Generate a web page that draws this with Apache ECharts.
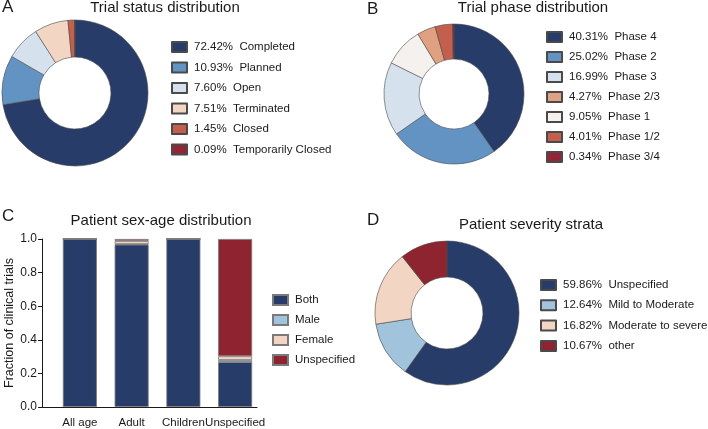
<!DOCTYPE html>
<html>
    <head>
        <meta charset="utf-8">
        <title>trial-overview</title>
        <style>html,body{margin:0;padding:0;background:#fff}.chart{width:708px;height:429px}</style>
    </head>
    <body>
        <div class="chart"></div>
        <script type="text/javascript" src="https://fastly.jsdelivr.net/npm/echarts@6/dist/echarts.min.js"></script>
        <script>
            // A - trial status
            const statusNames = ['Completed', 'Planned', 'Open', 'Terminated', 'Closed', 'Temporarily Closed'];
            const statusPct = [72.42, 10.93, 7.60, 7.51, 1.45, 0.09];
            const statusColors = ['#283c69', '#6393c3', '#d5e2ee', '#f2d5c2', '#c2604d', '#942534'];

            // B - trial phase (drawing order differs from legend order)
            const phaseNames = ['Phase 4', 'Phase 2', 'Phase 3', 'Phase 1', 'Phase 2/3', 'Phase 1/2', 'Phase 3/4'];
            const phasePct = [40.31, 25.02, 16.99, 9.05, 4.27, 4.01, 0.34];
            const phaseColors = ['#283c69', '#6393c3', '#d5e2ee', '#f5f1ee', '#e0a182', '#c2604d', '#942534'];
            const phaseLegendOrder = ['Phase 4', 'Phase 2', 'Phase 3', 'Phase 2/3', 'Phase 1', 'Phase 1/2', 'Phase 3/4'];

            // C - sex-age stacked fractions
            const ageGroups = ['All age', 'Adult', 'Children', 'Unspecified'];
            const sexNames = ['Both', 'Male', 'Female', 'Unspecified'];
            const sexBoth = [1.0, 0.966, 1.0, 0.268];
            const sexMale = [0, 0.004, 0, 0.012];
            const sexFemale = [0, 0.018, 0, 0.022];
            const sexUnspec = [0, 0.012, 0, 0.698];
            const sexColors = ['#283c69', '#a2c3dc', '#f2d5c2', '#8f2431'];
            const yTicks = [0, 0.2, 0.4, 0.6, 0.8, 1.0];

            // D - severity
            const severityNames = ['Unspecified', 'Mild to Moderate', 'Moderate to severe', 'other'];
            const severityPct = [59.86, 12.64, 16.82, 10.67];
            const severityColors = ['#283c69', '#a2c3dc', '#f2d5c2', '#8f2431'];

            const label = (p, n) => p.toFixed(2) + '%  ' + n;
            const font = 'Liberation Sans, Arial, sans-serif';
            const ink = '#1a1a1a';

            function pieSeries(names, pct, colors, center, radius) {
                return {
                    type: 'pie',
                    center: center,
                    radius: radius,
                    startAngle: 90,
                    clockwise: true,
                    label: { show: false },
                    labelLine: { show: false },
                    silent: true,
                    animation: false,
                    itemStyle: { borderColor: '#4a4a4a', borderWidth: 0.6 },
                    data: names.map((n, i) => ({
                        name: label(pct[i], n),
                        value: pct[i],
                        itemStyle: { color: colors[i] }
                    }))
                };
            }

            function legendBase(left, top, gap, data) {
                return {
                    orient: 'vertical',
                    left: left,
                    top: top,
                    itemWidth: 19,
                    itemHeight: 10,
                    itemGap: gap,
                    icon: 'path://M0,0H15V10H0Z',
                    selectedMode: false,
                    textStyle: { fontFamily: font, fontSize: 11.5, color: ink, lineHeight: 14 },
                    data: data
                };
            }

            function titleText(text, left, top, size, center) {
                return {
                    text: text, left: left, top: top, padding: 0,
                    textAlign: center ? 'center' : 'left',
                    textStyle: { fontSize: size, fontWeight: 'normal', color: ink, fontFamily: font }
                };
            }

            const barStyle = { borderColor: '#7a7a7a', borderWidth: 0.8 };
            const barSeries = [sexBoth, sexMale, sexFemale, sexUnspec].map((vals, i) => ({
                name: sexNames[i],
                type: 'bar',
                stack: 'sex',
                barWidth: 34,
                xAxisIndex: 0,
                yAxisIndex: 0,
                animation: false,
                itemStyle: Object.assign({ color: sexColors[i] }, barStyle),
                data: vals
            }));

            const phaseIndex = phaseLegendOrder.map(n => phaseNames.indexOf(n));

            const $myChart = echarts.init(document.querySelector('.chart'), null, { renderer: 'canvas' });
            $myChart.setOption({
                animation: false,
                textStyle: { fontFamily: font },
                title: [
                    titleText('A', 2, -1, 17, false),
                    titleText('Trial status distribution', 165, 0, 15, true),
                    titleText('B', 367, 1, 17, false),
                    titleText('Trial phase distribution', 533, 0, 15, true),
                    titleText('C', 2, 208, 17, false),
                    titleText('Patient sex-age distribution', 161, 213, 15, true),
                    titleText('D', 367, 212, 17, false),
                    titleText('Patient severity strata', 531, 217, 15, true)
                ],
                legend: [
                    legendBase(166, 35, 6.5, statusNames.map((n, i) => label(statusPct[i], n))),
                    legendBase(541, 25, 6, phaseIndex.map(i => label(phasePct[i], phaseNames[i]))),
                    legendBase(267, 288, 6, sexNames),
                    legendBase(535, 273, 6.3, severityNames.map((n, i) => label(severityPct[i], n)))
                ],
                grid: [
                    { left: 54, top: 239, width: 207, height: 168 },
                    { left: 42, top: 239, width: 215, height: 168 }
                ],
                xAxis: [
                    {
                        type: 'category',
                        gridIndex: 0,
                        data: ageGroups,
                        axisLine: { show: false },
                        axisTick: { alignWithLabel: true, length: 4, lineStyle: { color: ink } },
                        axisLabel: { fontSize: 11.5, color: ink, margin: 10, interval: 0 }
                    },
                    {
                        type: 'category',
                        gridIndex: 1,
                        data: [''],
                        axisLine: { lineStyle: { color: ink, width: 1 } },
                        axisTick: { show: false },
                        axisLabel: { show: false }
                    }
                ],
                yAxis: [
                    { type: 'value', gridIndex: 0, min: 0, max: 1, show: false },
                    {
                        type: 'value',
                        gridIndex: 1,
                        min: 0,
                        max: 1,
                        interval: 0.2,
                        name: 'Fraction of clinical trials',
                        nameLocation: 'middle',
                        nameGap: 26,
                        nameTextStyle: { fontSize: 12.5, color: ink },
                        axisLine: { show: true, lineStyle: { color: ink, width: 1 } },
                        axisTick: { show: true, length: 4, lineStyle: { color: ink } },
                        splitLine: { show: false },
                        axisLabel: {
                            fontSize: 12, color: ink, margin: 5,
                            formatter: v => yTicks.includes(Math.round(v * 10) / 10) ? v.toFixed(1) : ''
                        }
                    }
                ],
                series: [
                    ...barSeries,
                    pieSeries(statusNames, statusPct, statusColors, [75, 93], [36, 73]),
                    pieSeries(phaseNames, phasePct, phaseColors, [454, 94], [35, 70]),
                    pieSeries(severityNames, severityPct, severityColors, [447, 313], [36, 72])
                ]
            });
        </script>
    </body>
</html>
